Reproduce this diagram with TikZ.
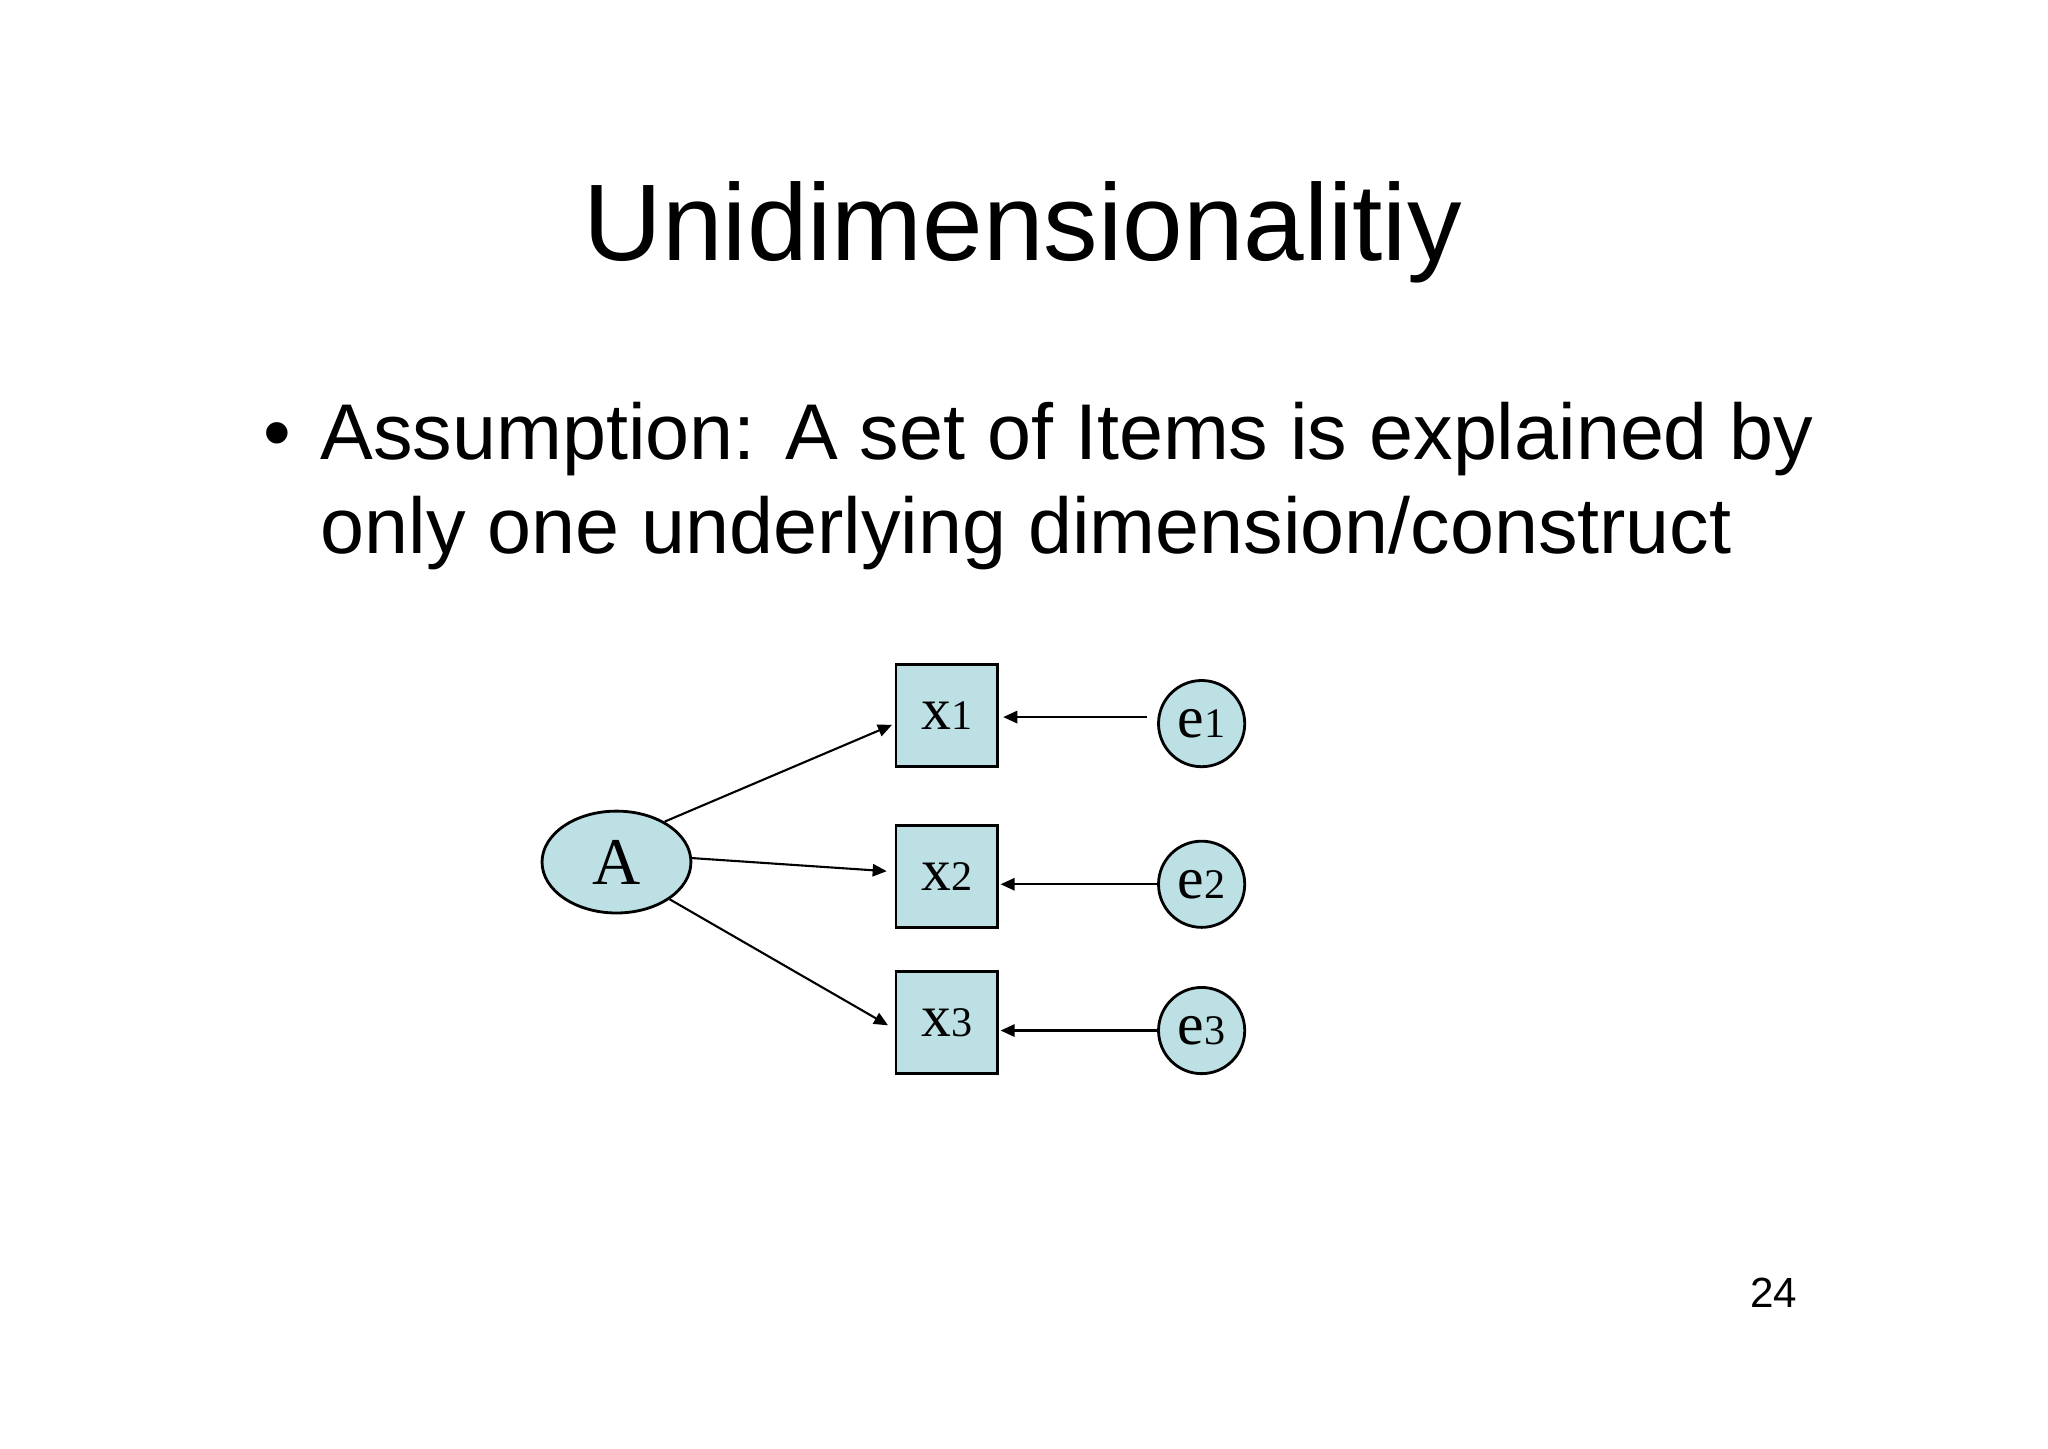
\documentclass[tikz,border=0pt]{standalone}
\usepackage{fontspec}
\setmainfont{Liberation Sans}
\newfontfamily\serifx{Liberation Serif}
\usetikzlibrary{shapes.geometric,arrows.meta}
\definecolor{nodefill}{HTML}{BCE0E3}
\begin{document}
\begin{tikzpicture}[x=0.013061cm,y=-0.013061cm,
  box/.style={draw,fill=nodefill,line width=0.8pt,minimum width=78*0.013061cm,minimum height=78*0.013061cm,inner sep=0pt,font=\serifx\fontsize{17}{17}\selectfont},
  err/.style={draw,fill=nodefill,circle,line width=0.8pt,minimum size=66*0.013061cm,inner sep=0pt,font=\serifx\fontsize{17}{17}\selectfont},
  arr/.style={-{Triangle[length=4pt,width=3.5pt]},line width=0.6pt}]
\useasboundingbox (0,0) rectangle (1568,1109);
\node[font=\fontsize{31}{31}\selectfont] (title) at (783,178) {Unidimensionalitiy};
\node[anchor=base west,font=\fontsize{22.5}{22.5}\selectfont] (b) at (192,352) {\textbullet};
\node[anchor=base west,font=\fontsize{22.5}{22.5}\selectfont,inner sep=0pt] (l1) at (245,352) {Assumption: A set of Items is explained by};
\node[anchor=base west,font=\fontsize{22.5}{22.5}\selectfont,inner sep=0pt] (l2) at (245,424) {only one underlying dimension/construct};
\node[box] (x1) at (725,548) {x{\fontsize{12}{12}\selectfont 1}};
\node[box] (x2) at (725,671) {x{\fontsize{12}{12}\selectfont 2}};
\node[box] (x3) at (725,783) {x{\fontsize{12}{12}\selectfont 3}};
\node[err] (e1) at (920,554) {e{\fontsize{12}{12}\selectfont 1}};
\node[err] (e2) at (920,677) {e{\fontsize{12}{12}\selectfont 2}};
\node[err] (e3) at (920,789) {e{\fontsize{12}{12}\selectfont 3}};
\node[draw,fill=nodefill,ellipse,line width=0.8pt,minimum width=114*0.013061cm,minimum height=78*0.013061cm,inner sep=0pt,font=\serifx\fontsize{19}{19}\selectfont] (A) at (472,660) {A};
\draw[arr] (A.40) -- ([xshift=-2*0.013061cm]x1.west |- 0,555);
\draw[arr] (A.3) -- ([xshift=-6*0.013061cm]x2.west |- 0,667);
\draw[arr] (A.-35) -- ([xshift=-5*0.013061cm]x3.west |- 0,785);
\draw[arr] ([xshift=-8*0.013061cm]e1.west |- 0,549) -- ([xshift=3*0.013061cm]x1.east |- 0,549);
\draw[arr] (e2.west) -- ([xshift=1*0.013061cm]x2.east |- 0,677);
\draw[arr] (e3.west) -- ([xshift=1*0.013061cm]x3.east |- 0,789);
\node[font=\fontsize{12}{12}\selectfont] (pg) at (1358,990) {24};
\end{tikzpicture}
\end{document}
